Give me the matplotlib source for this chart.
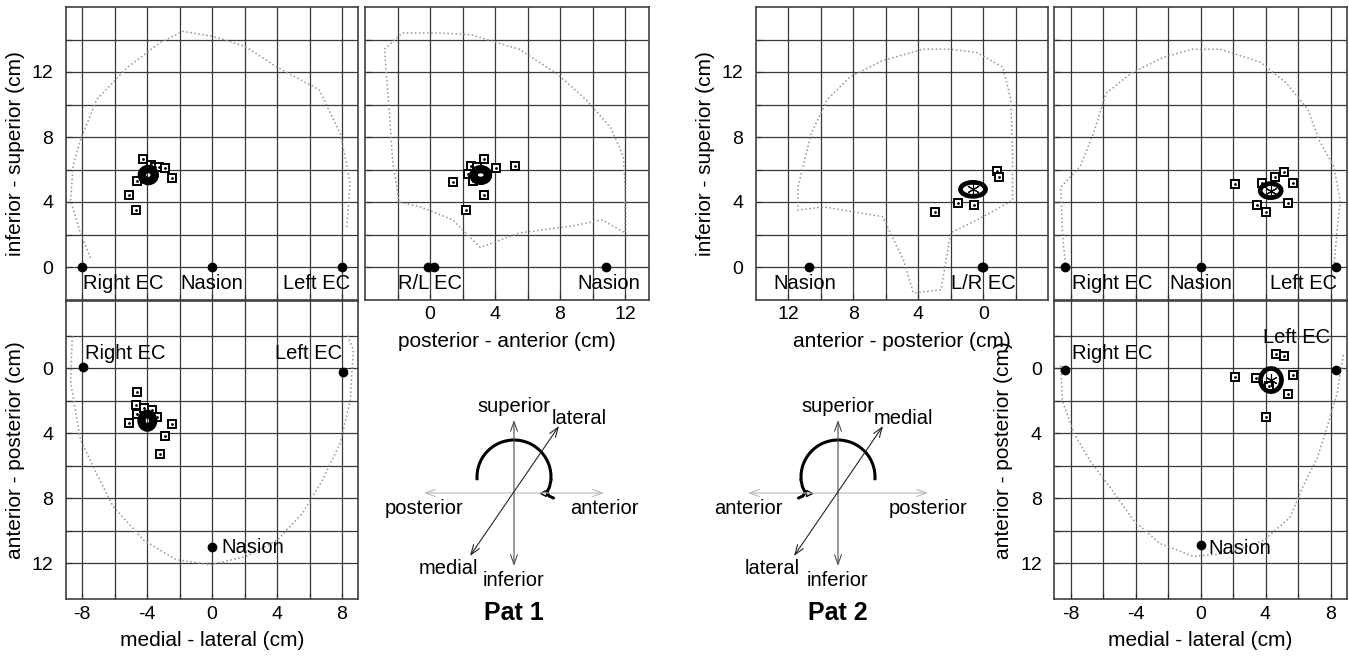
import numpy as np
import matplotlib
matplotlib.use("Agg")
import matplotlib.pyplot as plt
from matplotlib.patches import Ellipse, Arc
from matplotlib.ticker import FixedLocator

plt.rcParams['font.family'] = ['Liberation Sans', 'DejaVu Sans']
plt.rcParams['axes.unicode_minus'] = False

W, H = 1349, 658

# ---------------- Pat 1 ----------------
# coronal view: medial-lateral vs inferior-superior
p1_cor_fid_x = [-8.0, 0.0, 8.0]
p1_cor_fid_y = [0.0, 0.0, 0.0]
p1_cor_dip_x = [-4.26, -4.63, -5.11, -4.68, -2.46, -3.77, -3.51, -3.24, -2.89]
p1_cor_dip_y = [6.63, 5.27, 4.45, 3.49, 5.50, 6.26, 6.17, 6.17, 6.09]
p1_cor_mean = (-3.92, 5.66, 0.80, 0.75)
p1_cor_head = [(-7.5, 0.6), (-8.1, 2.1), (-8.7, 4.1), (-8.55, 6.2), (-8.1, 7.8), (-7.1, 10.3),
               (-5.2, 12.3), (-3.2, 13.8), (-1.8, 14.5), (0.0, 14.2), (2.0, 13.6), (4.0, 12.3),
               (6.6, 10.9), (7.9, 8.2), (8.5, 5.2), (8.3, 2.5)]
p1_cor_lab = [('Right EC', -7.95, -1.0, 'left'), ('Nasion', 0.0, -1.0, 'center'),
              ('Left EC', 8.5, -1.0, 'right')]

# sagittal view: posterior-anterior vs inferior-superior
p1_sag_fid_x = [-0.1, 0.25, 10.8]
p1_sag_fid_y = [0.0, 0.0, 0.0]
p1_sag_dip_x = [3.32, 2.54, 2.91, 4.06, 5.23, 2.36, 1.40, 2.66, 3.30, 2.20]
p1_sag_dip_y = [6.63, 6.23, 6.17, 6.07, 6.23, 5.72, 5.25, 5.29, 4.45, 3.51]
p1_sag_mean = (3.12, 5.66, 0.90, 0.72)
p1_sag_head = [(-1.9, 4.0), (-2.3, 6.5), (-2.5, 9.5), (-2.8, 13.4), (-1.7, 14.4), (0.5, 14.4),
               (2.5, 14.3), (5.5, 13.4), (7.8, 11.9), (9.6, 10.3), (11.1, 8.6), (11.9, 6.8),
               (12.0, 4.9), (12.0, 2.1), (10.6, 2.9), (8.6, 2.5), (5.5, 2.1), (3.1, 1.2),
               (1.4, 2.9), (-0.6, 3.7), (-1.9, 4.0)]
p1_sag_lab = [('R/L EC', 0.0, -1.0, 'center'), ('Nasion', 11.0, -1.0, 'center')]

# axial view: medial-lateral vs anterior-posterior
p1_ax_fid_x = [-7.96, 8.04, 0.02]
p1_ax_fid_y = [-0.08, 0.23, 11.0]
p1_ax_dip_x = [-4.62, -4.68, -4.63, -4.18, -3.71, -3.40, -5.13, -2.44, -2.91, -3.22]
p1_ax_dip_y = [1.50, 2.28, 2.83, 2.48, 2.58, 3.00, 3.37, 3.45, 4.17, 5.31]
p1_ax_mean = (-3.98, 3.24, 0.72, 0.85)
p1_ax_head = [(-8.6, -1.9), (-8.7, 0.9), (-8.1, 4.4), (-7.1, 6.5), (-6.1, 8.5), (-4.2, 10.6),
              (-2.2, 11.8), (-0.1, 12.1), (2.1, 11.6), (4.0, 10.6), (5.6, 8.9), (6.8, 6.9),
              (7.9, 4.6), (8.5, 2.0), (8.7, -1.1), (8.3, -2.1)]
p1_ax_lab = [('Right EC', -7.8, -0.9, 'left'), ('Left EC', 8.0, -0.9, 'right'),
             ('Nasion', 0.6, 11.05, 'left')]

# ---------------- Pat 2 ----------------
p2_sag_fid_x = [10.7, 0.0, 0.05]
p2_sag_fid_y = [0.0, 0.0, 0.0]
p2_sag_dip_x = [-0.84, -0.94, 1.56, 0.55, 2.95]
p2_sag_dip_y = [5.93, 5.56, 3.92, 3.82, 3.37]
p2_sag_mean = (0.63, 4.78, 1.54, 0.86)
p2_sag_head = [(11.4, 3.5), (11.4, 4.9), (10.6, 8.2), (9.6, 10.3), (8.2, 11.7), (6.2, 12.7),
               (3.7, 13.4), (2.0, 13.4), (0.4, 13.2), (-1.2, 12.3), (-1.7, 10.3), (-1.8, 7.2),
               (-1.8, 4.1), (0.0, 3.1), (2.0, 2.1), (2.6, -1.4), (4.3, -1.6), (4.9, 0.4),
               (6.2, 3.1), (9.8, 3.7), (11.4, 3.5)]
p2_sag_lab = [('Nasion', 11.0, -1.0, 'center'), ('L/R EC', 0.0, -1.0, 'center')]

p2_cor_fid_x = [-8.34, 0.0, 8.34]
p2_cor_fid_y = [0.0, 0.0, 0.0]
p2_cor_dip_x = [2.12, 4.60, 5.14, 5.67, 3.77, 3.46, 4.01, 5.37]
p2_cor_dip_y = [5.11, 5.56, 5.86, 5.15, 5.15, 3.82, 3.37, 3.92]
p2_cor_mean = (4.32, 4.70, 1.29, 0.86)
p2_cor_head = [(-8.3, 0.0), (-8.5, 2.1), (-8.6, 4.9), (-7.4, 6.2), (-6.6, 8.2), (-5.8, 10.7),
               (-4.3, 11.9), (-2.3, 12.9), (-0.5, 13.4), (1.2, 13.4), (3.7, 12.6), (5.3, 11.3),
               (6.6, 9.7), (7.3, 7.8), (8.2, 6.2), (8.6, 4.1), (8.4, 2.1), (8.2, 0.0)]
p2_cor_lab = [('Right EC', -7.9, -1.0, 'left'), ('Nasion', 0.0, -1.0, 'center'),
              ('Left EC', 8.4, -1.0, 'right')]

p2_ax_fid_x = [-8.34, 8.32, 0.0]
p2_ax_fid_y = [0.12, 0.12, 10.9]
p2_ax_dip_x = [4.65, 5.16, 2.12, 3.42, 5.67, 4.24, 5.37, 4.01]
p2_ax_dip_y = [-0.86, -0.74, 0.53, 0.64, 0.43, 1.11, 1.62, 3.00]
p2_ax_mean = (4.34, 0.74, 1.29, 1.42)
p2_ax_head = [(-8.6, -0.1), (-8.5, 2.0), (-7.8, 4.0), (-6.8, 5.7), (-5.6, 7.3), (-4.1, 9.4),
              (-2.5, 10.8), (-0.4, 11.6), (1.6, 11.4), (3.9, 10.6), (5.5, 9.2), (6.3, 7.3),
              (7.2, 5.5), (7.8, 3.6), (8.4, 1.6), (8.8, -0.9)]
p2_ax_lab = [('Right EC', -7.9, -0.9, 'left'), ('Left EC', 7.97, -1.85, 'right'),
             ('Nasion', 0.5, 11.1, 'left')]

ml_ticks = [-8, -4, 0, 4, 8]
ml_grid = np.arange(-8, 9, 2)
pa_ticks = [0, 4, 8, 12]
pa_grid = np.arange(-2, 14, 2)
is_ticks = [0, 4, 8, 12]
is_grid = np.arange(0, 16, 2)
ap_ticks = [0, 4, 8, 12]
ap_grid = np.arange(-2, 14, 2)

fig = plt.figure(figsize=(W / 100, H / 100), dpi=100)


def panel(x0, x1, y0, y1, xlim, ylim, xt, xg, yt, yg, xlab=True, ylab=True):
    ax = fig.add_axes([x0 / W, 1 - y1 / H, (x1 - x0) / W, (y1 - y0) / H])
    ax.set_xlim(xlim)
    ax.set_ylim(ylim)
    ax.xaxis.set_major_locator(FixedLocator(xt))
    ax.xaxis.set_minor_locator(FixedLocator(xg))
    ax.yaxis.set_major_locator(FixedLocator(yt))
    ax.yaxis.set_minor_locator(FixedLocator(yg))
    ax.grid(which='both', color='0.22', lw=0.9)
    ax.set_axisbelow(True)
    ax.tick_params(which='both', direction='in', length=4, color='0.2', width=0.9,
                   labelsize=14, labelbottom=xlab, labelleft=ylab)
    ax.tick_params(axis='x', pad=5)
    ax.tick_params(axis='y', pad=9)
    for s in ax.spines.values():
        s.set_linewidth(1.2)
        s.set_color('0.25')
    return ax


def draw_view(ax, head, fx, fy, labs, dx, dy, mean, elw, star):
    hx, hy = zip(*head)
    ax.plot(hx, hy, color='0.6', lw=1.3, ls=(0, (0.05, 2.2)), dash_capstyle='round', zorder=2)
    ax.plot(fx, fy, 'o', color='k', ms=6, zorder=4)
    ax.plot(dx, dy, 's', ms=6, mfc='white', mec='k', mew=1.4, zorder=4)
    ax.plot(dx, dy, '.', ms=2, color='k', zorder=5)
    ax.add_patch(Ellipse(mean[:2], mean[2], mean[3], fill=False, ec='k', lw=elw, zorder=6))
    if star:
        ax.plot(mean[0], mean[1], marker=(6, 2, 0), ms=9, mew=0.8, color='k', zorder=7)
    for t, x, y, ha in labs:
        ax.text(x, y, t, ha=ha, va='center', fontsize=14.5, zorder=8)


# Pat 1
ax = panel(65.75, 358.25, 7, 299.5, (-9, 9), (-2, 16), ml_ticks, ml_grid, is_ticks, is_grid, xlab=False)
draw_view(ax, p1_cor_head, p1_cor_fid_x, p1_cor_fid_y, p1_cor_lab, p1_cor_dip_x, p1_cor_dip_y,
          p1_cor_mean, 6, False)
ax.set_ylabel('inferior - superior (cm)', fontsize=15, labelpad=5)

ax = panel(365, 649.4, 7, 299.5, (-4, 13.5), (-2, 16), pa_ticks, pa_grid, is_ticks, is_grid, ylab=False)
draw_view(ax, p1_sag_head, p1_sag_fid_x, p1_sag_fid_y, p1_sag_lab, p1_sag_dip_x, p1_sag_dip_y,
          p1_sag_mean, 6, False)
ax.set_xlabel('posterior - anterior (cm)', fontsize=15, labelpad=6)

ax = panel(65.75, 358.25, 301.4, 598.75, (-9, 9), (14.2, -4.1), ml_ticks, ml_grid, ap_ticks, ap_grid)
draw_view(ax, p1_ax_head, p1_ax_fid_x, p1_ax_fid_y, p1_ax_lab, p1_ax_dip_x, p1_ax_dip_y,
          p1_ax_mean, 6, False)
ax.set_ylabel('anterior - posterior (cm)', fontsize=15, labelpad=5)
ax.set_xlabel('medial - lateral (cm)', fontsize=15, labelpad=6)

# Pat 2
ax = panel(755.75, 1048.25, 7, 299.5, (14, -4), (-2, 16), pa_ticks, pa_grid, is_ticks, is_grid)
draw_view(ax, p2_sag_head, p2_sag_fid_x, p2_sag_fid_y, p2_sag_lab, p2_sag_dip_x, p2_sag_dip_y,
          p2_sag_mean, 3.4, True)
ax.set_ylabel('inferior - superior (cm)', fontsize=15, labelpad=5)
ax.set_xlabel('anterior - posterior (cm)', fontsize=15, labelpad=6)

ax = panel(1054.25, 1346.75, 7, 299.5, (-9, 9), (-2, 16), ml_ticks, ml_grid, is_ticks, is_grid,
           xlab=False, ylab=False)
draw_view(ax, p2_cor_head, p2_cor_fid_x, p2_cor_fid_y, p2_cor_lab, p2_cor_dip_x, p2_cor_dip_y,
          p2_cor_mean, 3.4, True)

ax = panel(1054.25, 1346.75, 301.4, 598.75, (-9, 9), (14.2, -4.1), ml_ticks, ml_grid, ap_ticks, ap_grid)
draw_view(ax, p2_ax_head, p2_ax_fid_x, p2_ax_fid_y, p2_ax_lab, p2_ax_dip_x, p2_ax_dip_y,
          p2_ax_mean, 3.4, True)
ax.set_ylabel('anterior - posterior (cm)', fontsize=15, labelpad=5)
ax.set_xlabel('medial - lateral (cm)', fontsize=15, labelpad=6)

# orientation sketches, in figure pixels
ov = fig.add_axes([0, 0, 1, 1])
ov.set_xlim(0, W)
ov.set_ylim(H, 0)
ov.axis('off')


def orient(cx, cy, left, right, lo, hi, title, flip):
    arr = dict(arrowstyle='<->,head_length=0.7,head_width=0.25', lw=0.8, shrinkA=0, shrinkB=0)
    ov.annotate('', xy=(cx - 90, cy), xytext=(cx + 90, cy), arrowprops=dict(arr, color='0.72'))
    ov.annotate('', xy=(cx, cy - 73), xytext=(cx, cy + 73), arrowprops=dict(arr, color='0.3'))
    ov.annotate('', xy=(cx - 44, cy + 63), xytext=(cx + 45, cy - 67), arrowprops=dict(arr, color='0.15'))
    fs = 14.5
    ov.text(cx, cy - 87, 'superior', ha='center', va='center', fontsize=fs)
    ov.text(cx, cy + 88, 'inferior', ha='center', va='center', fontsize=fs)
    ov.text(cx - 90, cy + 15, left, ha='center', va='center', fontsize=fs)
    ov.text(cx + 90, cy + 15, right, ha='center', va='center', fontsize=fs)
    ov.text(cx - 66, cy + 76, lo, ha='center', va='center', fontsize=fs)
    ov.text(cx + 65, cy - 74, hi, ha='center', va='center', fontsize=fs)
    ov.add_patch(Arc((cx, cy - 16), 74, 74, theta1=175, theta2=365, lw=2.2, color='k'))
    s = -1 if flip else 1
    ov.plot([cx + s * 37, cx + s * 35.5, cx + s * 33, cx + s * 35, cx + s * 39.5],
            [cy - 13, cy - 6, cy - 1, cy + 3, cy + 5], color='k', lw=2.2, solid_capstyle='round')
    ov.plot(cx + s * 29, cy, marker='>' if flip else '<', ms=4.5, mfc='white', mec='k', mew=1.0)
    ov.text(cx, cy + 120, title, ha='center', va='center', fontsize=18, fontweight='bold')


orient(514, 493, 'posterior', 'anterior', 'medial', 'lateral', 'Pat 1', False)
orient(838, 493, 'anterior', 'posterior', 'lateral', 'medial', 'Pat 2', True)

fig.savefig('out.png', dpi=100)
